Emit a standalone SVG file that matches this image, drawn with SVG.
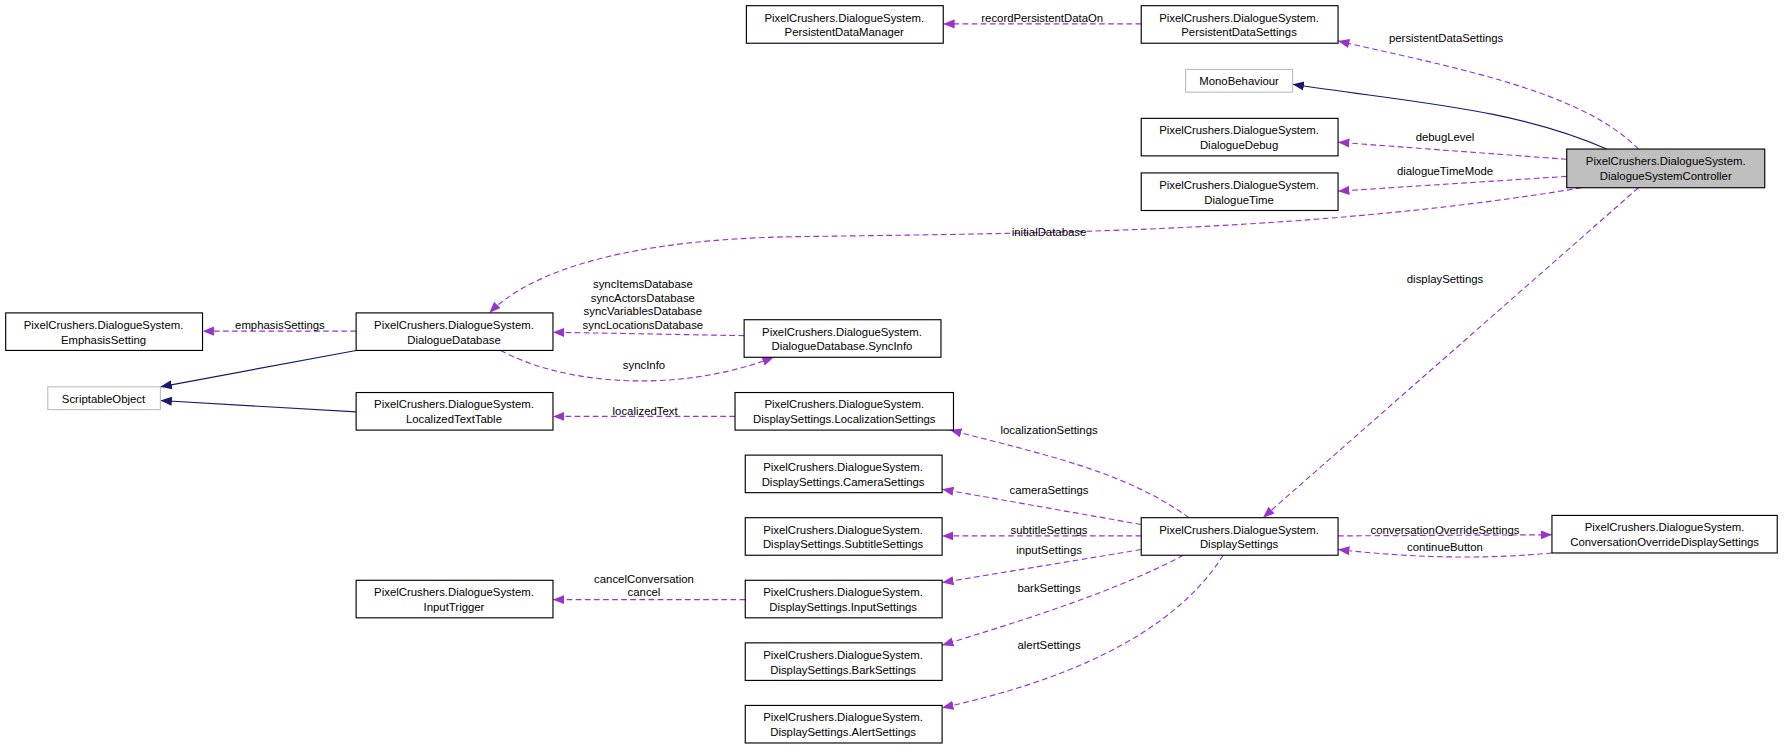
<svg xmlns="http://www.w3.org/2000/svg" width="1784" height="749" viewBox="0 0 1784 749">
<defs>
<style>
.n rect{fill:#fff;stroke:#000;stroke-width:1}
.g rect{fill:#fff;stroke:#bfbfbf;stroke-width:1}
text{font-family:"Liberation Sans",Arial,sans-serif;font-size:10px;text-anchor:middle;fill:#000}
.u{fill:none;stroke:#9a32cd;stroke-dasharray:5,3;stroke-width:1}
.i{fill:none;stroke:#191970;stroke-width:1}
</style>
<marker id="pa" viewBox="0 0 10 10" refX="10" refY="5" markerWidth="10" markerHeight="10" markerUnits="userSpaceOnUse" orient="auto"><path d="M0,1L10,5L0,9z" fill="#9a32cd"/></marker>
<marker id="na" viewBox="0 0 10 10" refX="10" refY="5" markerWidth="10" markerHeight="10" markerUnits="userSpaceOnUse" orient="auto"><path d="M0,1L10,5L0,9z" fill="#191970"/></marker>
</defs>
<rect width="1784" height="749" fill="#fff"/>
<g transform="scale(1.1378)">
<g id="edges">
<path class="u" marker-end="url(#pa)" d="M1003,21L829,21"/><text x="916" y="19">recordPersistentDataOn</text>
<path class="u" marker-end="url(#pa)" d="M1440,131C1390,80 1280,60 1176,36"/><text x="1271" y="37">persistentDataSettings</text>
<path class="i" marker-end="url(#na)" d="M1412,131C1330,95 1240,90 1136,74"/>
<path class="u" marker-end="url(#pa)" d="M1377,140L1176,125"/><text x="1270" y="124">debugLevel</text>
<path class="u" marker-end="url(#pa)" d="M1377,155L1176,168"/><text x="1270" y="154">dialogueTimeMode</text>
<path class="u" marker-end="url(#pa)" d="M1390,165C1150,205 900,205 700,208C560,210 470,235 430,275"/><text x="922" y="207">initialDatabase</text>
<path class="u" marker-end="url(#pa)" d="M1440,165L1110,455"/><text x="1270" y="249">displaySettings</text>
<path class="u" marker-end="url(#pa)" d="M313,291L178,291"/><text x="246" y="289">emphasisSettings</text>
<path class="i" marker-end="url(#na)" d="M313,308L141,340"/>
<path class="i" marker-end="url(#na)" d="M313,362L141,352"/>
<path class="u" marker-end="url(#pa)" d="M654,295L486,292"/>
<text x="565" y="253">syncItemsDatabase</text><text x="565" y="265">syncActorsDatabase</text><text x="565" y="277">syncVariablesDatabase</text><text x="565" y="289">syncLocationsDatabase</text>
<path class="u" marker-end="url(#pa)" d="M440,308C500,340 600,345 680,314"/><text x="566" y="324">syncInfo</text>
<path class="u" marker-end="url(#pa)" d="M646,366L486,366"/><text x="567" y="365">localizedText</text>
<path class="u" marker-end="url(#pa)" d="M1045,455C990,415 920,400 835,378"/><text x="922" y="381">localizationSettings</text>
<path class="u" marker-end="url(#pa)" d="M1003,461L828,430"/><text x="922" y="434">cameraSettings</text>
<path class="u" marker-end="url(#pa)" d="M1003,471L828,471"/><text x="922" y="469">subtitleSettings</text>
<path class="u" marker-end="url(#pa)" d="M1003,483L828,512"/><text x="922" y="487">inputSettings</text>
<path class="u" marker-end="url(#pa)" d="M1040,488C980,520 900,545 828,567"/><text x="922" y="520">barkSettings</text>
<path class="u" marker-end="url(#pa)" d="M1075,488C1030,560 930,600 828,622"/><text x="922" y="570">alertSettings</text>
<path class="u" marker-end="url(#pa)" d="M1176,471L1364,470"/><text x="1270" y="469">conversationOverrideSettings</text>
<path class="u" marker-end="url(#pa)" d="M1364,486C1300,492 1240,490 1176,483"/><text x="1270" y="484">continueButton</text>
<path class="u" marker-end="url(#pa)" d="M655,527L486,527"/><text x="566" y="512">cancelConversation</text><text x="566" y="524">cancel</text>
</g>
<g id="PersistentDataManager" class="n"><rect x="656" y="5" width="173" height="33"/><text x="742" y="19">PixelCrushers.DialogueSystem.</text><text x="742" y="32">PersistentDataManager</text></g>
<g id="PersistentDataSettings" class="n"><rect x="1003" y="5" width="173" height="33"/><text x="1089" y="19">PixelCrushers.DialogueSystem.</text><text x="1089" y="32">PersistentDataSettings</text></g>
<g id="MonoBehaviour" class="g"><rect x="1042" y="61" width="94" height="20"/><text x="1089" y="75">MonoBehaviour</text></g>
<g id="DialogueDebug" class="n"><rect x="1003" y="104" width="173" height="33"/><text x="1089" y="118">PixelCrushers.DialogueSystem.</text><text x="1089" y="131">DialogueDebug</text></g>
<g id="DialogueTime" class="n"><rect x="1003" y="152" width="173" height="33"/><text x="1089" y="166">PixelCrushers.DialogueSystem.</text><text x="1089" y="179">DialogueTime</text></g>
<g id="DialogueSystemController" class="n"><rect x="1377" y="131" width="174" height="34" style="fill:#bfbfbf"/><text x="1464" y="145">PixelCrushers.DialogueSystem.</text><text x="1464" y="158">DialogueSystemController</text></g>
<g id="EmphasisSetting" class="n"><rect x="5" y="275" width="173" height="33"/><text x="91" y="289">PixelCrushers.DialogueSystem.</text><text x="91" y="302">EmphasisSetting</text></g>
<g id="DialogueDatabase" class="n"><rect x="313" y="275" width="173" height="33"/><text x="399" y="289">PixelCrushers.DialogueSystem.</text><text x="399" y="302">DialogueDatabase</text></g>
<g id="SyncInfo" class="n"><rect x="654" y="281" width="173" height="33"/><text x="740" y="295">PixelCrushers.DialogueSystem.</text><text x="740" y="308">DialogueDatabase.SyncInfo</text></g>
<g id="ScriptableObject" class="g"><rect x="42" y="340" width="99" height="20"/><text x="91" y="354">ScriptableObject</text></g>
<g id="LocalizedTextTable" class="n"><rect x="313" y="345" width="173" height="33"/><text x="399" y="359">PixelCrushers.DialogueSystem.</text><text x="399" y="372">LocalizedTextTable</text></g>
<g id="LocalizationSettings" class="n"><rect x="646" y="345" width="192" height="33"/><text x="742" y="359">PixelCrushers.DialogueSystem.</text><text x="742" y="372">DisplaySettings.LocalizationSettings</text></g>
<g id="CameraSettings" class="n"><rect x="655" y="400" width="173" height="33"/><text x="741" y="414">PixelCrushers.DialogueSystem.</text><text x="741" y="427">DisplaySettings.CameraSettings</text></g>
<g id="SubtitleSettings" class="n"><rect x="655" y="455" width="173" height="33"/><text x="741" y="469">PixelCrushers.DialogueSystem.</text><text x="741" y="482">DisplaySettings.SubtitleSettings</text></g>
<g id="DisplaySettings" class="n"><rect x="1003" y="455" width="173" height="33"/><text x="1089" y="469">PixelCrushers.DialogueSystem.</text><text x="1089" y="482">DisplaySettings</text></g>
<g id="ConversationOverrideDisplaySettings" class="n"><rect x="1364" y="453" width="198" height="33"/><text x="1463" y="467">PixelCrushers.DialogueSystem.</text><text x="1463" y="480">ConversationOverrideDisplaySettings</text></g>
<g id="InputTrigger" class="n"><rect x="313" y="510" width="173" height="33"/><text x="399" y="524">PixelCrushers.DialogueSystem.</text><text x="399" y="537">InputTrigger</text></g>
<g id="InputSettings" class="n"><rect x="655" y="510" width="173" height="33"/><text x="741" y="524">PixelCrushers.DialogueSystem.</text><text x="741" y="537">DisplaySettings.InputSettings</text></g>
<g id="BarkSettings" class="n"><rect x="655" y="565" width="173" height="33"/><text x="741" y="579">PixelCrushers.DialogueSystem.</text><text x="741" y="592">DisplaySettings.BarkSettings</text></g>
<g id="AlertSettings" class="n"><rect x="655" y="620" width="173" height="33"/><text x="741" y="634">PixelCrushers.DialogueSystem.</text><text x="741" y="647">DisplaySettings.AlertSettings</text></g>
</g>
</svg>
